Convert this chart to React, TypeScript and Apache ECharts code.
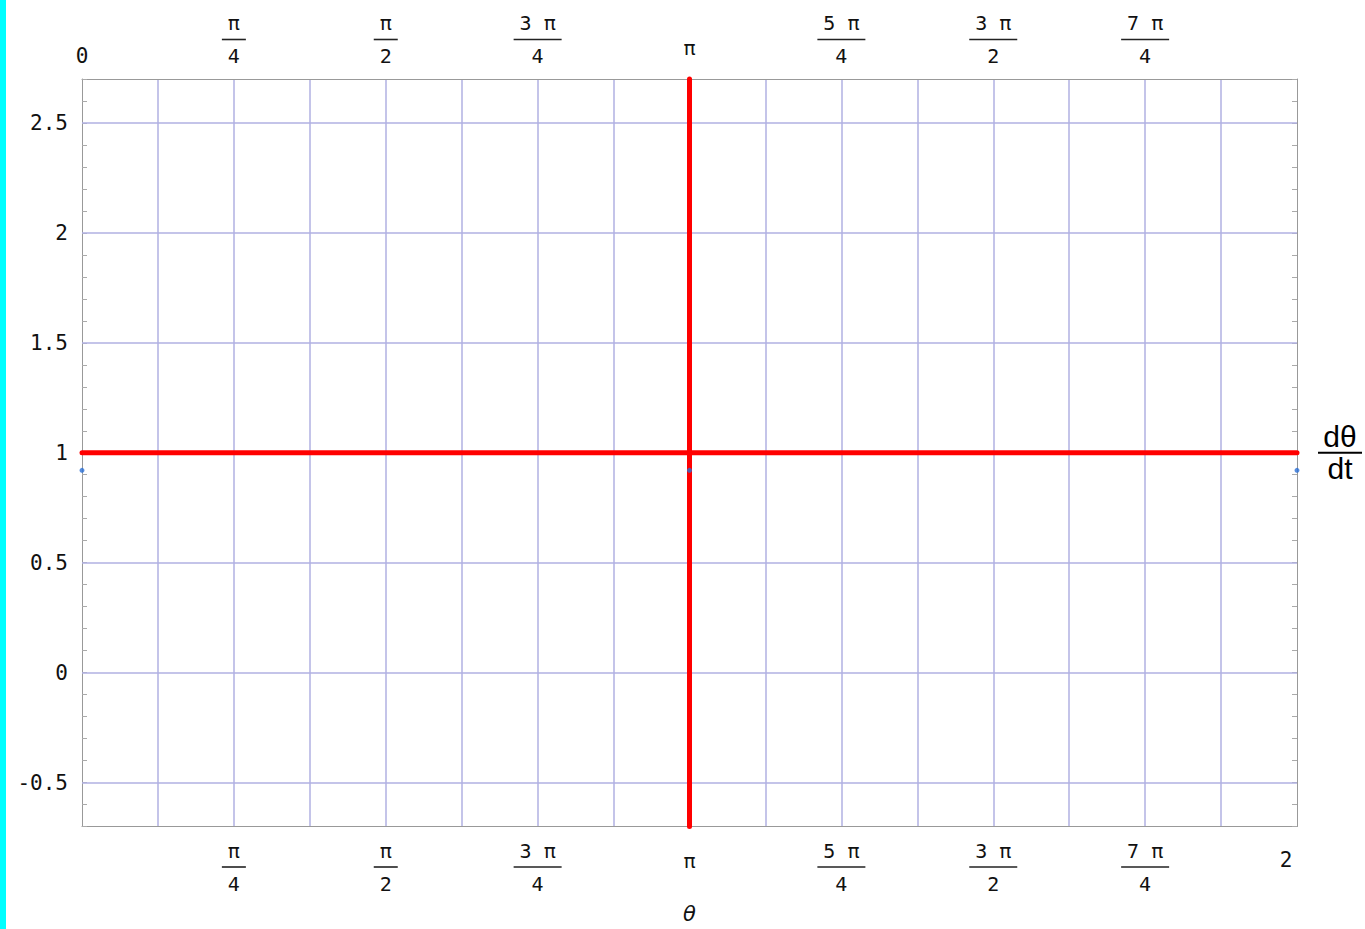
import React, { useEffect, useRef } from "react";
import * as echarts from "echarts";

const PI = Math.PI;

// Horizontal axis: θ from 0 to 2π with gridlines every π/8
const thetaMin = 0;
const thetaMax = 2 * PI;
const thetaGridStep = PI / 8;

// Tick labels on the top and bottom θ axes, placed at multiples of π/8
const topLabelSteps = [0, 2, 4, 6, 8, 10, 12, 14];
const topTickLabels = ["0", "π/4", "π/2", "3 π/4", "π", "5 π/4", "3 π/2", "7 π/4"];
const bottomLabelSteps = [2, 4, 6, 8, 10, 12, 14, 16];
const bottomTickLabels = ["π/4", "π/2", "3 π/4", "π", "5 π/4", "3 π/2", "7 π/4", "2"];

// Vertical axis: dθ/dt
const rateMin = -0.7;
const rateMax = 2.7;
const rateTickStep = 0.1;
const rateGridValues = [-0.5, 0, 0.5, 1, 1.5, 2, 2.5];

// Red lines: dθ/dt = 1 over the whole θ range, and θ = π
const horizontalLineTheta = [0, 2 * PI];
const horizontalLineRate = [1, 1];
const verticalLineTheta = [PI, PI];
const verticalLineRate = [-0.7, 2.7];

// Blue points
const pointTheta = [0, PI, 2 * PI];
const pointRate = [0.92, 0.92, 0.92];

const gridColor = "#b0b0e2";
const frameColor = "#999999";
const textColor = "#111111";
const monoFont = "'DejaVu Sans Mono', monospace";

const zip = (xs: number[], ys: number[]) => xs.map((x, i) => [x, ys[i]]);

function thetaFormatter(steps: number[], labels: string[]) {
  return (value: number) => {
    const k = Math.round(value / thetaGridStep);
    const i = steps.indexOf(k);
    if (i < 0) return "";
    const label = labels[i];
    if (label.includes("/")) {
      const [num, den] = label.split("/");
      const bar = num.length > 1 ? "barL" : "barS";
      return `{num|${num}}\n{${bar}|}\n{den|${den}}`;
    }
    if (label === "π") return "{pi|π}";
    if (label === "2") return "{end|2}";
    return `{plain|${label}}`;
  };
}

const fractionRich = {
  num: { fontFamily: monoFont, fontSize: 20, lineHeight: 30, color: textColor },
  den: { fontFamily: monoFont, fontSize: 20, lineHeight: 30, color: textColor },
  barS: { width: 24, height: 1.6, lineHeight: 3, backgroundColor: "#222222" },
  barL: { width: 48, height: 1.6, lineHeight: 3, backgroundColor: "#222222" },
};

function rateFormatter(v: number) {
  if (Math.abs(v * 2 - Math.round(v * 2)) > 1e-6) return "";
  const r = Math.round(v * 10) / 10;
  return String(r === 0 ? 0 : r);
}

const option: any = {
  animation: false,
  backgroundColor: "#ffffff",
  grid: { left: 82, top: 79, width: 1216, height: 751, containLabel: false },
  graphic: [
    {
      type: "rect",
      left: 0,
      top: 0,
      shape: { width: 6, height: 929 },
      style: { fill: "#00ffff" },
      silent: true,
    },
  ],
  xAxis: [
    {
      type: "value",
      position: "bottom",
      min: thetaMin,
      max: thetaMax,
      interval: thetaGridStep,
      axisLine: { show: true, onZero: false, lineStyle: { color: frameColor, width: 1 } },
      axisTick: { show: false },
      splitLine: {
        show: true,
        showMinLine: false,
        showMaxLine: false,
        lineStyle: { color: gridColor, width: 1.5 },
      },
      axisLabel: {
        show: true,
        margin: 9,
        showMinLabel: true,
        showMaxLabel: true,
        formatter: thetaFormatter(bottomLabelSteps, bottomTickLabels),
        rich: {
          ...fractionRich,
          pi: { fontFamily: monoFont, fontSize: 20, lineHeight: 50, color: textColor },
          end: {
            fontFamily: monoFont,
            fontSize: 21,
            lineHeight: 48,
            padding: [0, 22, 0, 0],
            color: textColor,
          },
          plain: { fontFamily: monoFont, fontSize: 21, lineHeight: 30, color: textColor },
        },
      },
      name: "θ",
      nameLocation: "middle",
      nameGap: 87,
      nameTextStyle: {
        fontFamily: "'DejaVu Sans', sans-serif",
        fontStyle: "italic",
        fontSize: 21,
        color: textColor,
        align: "center",
        verticalAlign: "middle",
      },
    },
    {
      type: "value",
      position: "top",
      min: thetaMin,
      max: thetaMax,
      interval: thetaGridStep,
      axisLine: { show: true, onZero: false, lineStyle: { color: frameColor, width: 1 } },
      axisTick: { show: false },
      splitLine: { show: false },
      axisLabel: {
        show: true,
        margin: 8,
        showMinLabel: true,
        showMaxLabel: true,
        formatter: thetaFormatter(topLabelSteps, topTickLabels),
        rich: {
          ...fractionRich,
          pi: { fontFamily: monoFont, fontSize: 20, lineHeight: 46, color: textColor },
          plain: { fontFamily: monoFont, fontSize: 21, lineHeight: 30, color: textColor },
        },
      },
    },
  ],
  yAxis: [
    {
      type: "value",
      position: "left",
      min: rateMin,
      max: rateMax,
      interval: rateTickStep,
      axisLine: { show: true, onZero: false, lineStyle: { color: frameColor, width: 1 } },
      axisTick: { show: true, inside: true, length: 5, lineStyle: { color: "#aaaaaa", width: 1 } },
      splitLine: { show: false },
      axisLabel: {
        show: true,
        margin: 14,
        showMinLabel: true,
        showMaxLabel: true,
        fontFamily: monoFont,
        fontSize: 21,
        color: textColor,
        formatter: rateFormatter,
      },
    },
    {
      type: "value",
      position: "right",
      min: rateMin,
      max: rateMax,
      interval: rateTickStep,
      axisLine: { show: true, onZero: false, lineStyle: { color: frameColor, width: 1 } },
      axisTick: { show: true, inside: true, length: 5, lineStyle: { color: "#aaaaaa", width: 1 } },
      splitLine: { show: false },
      axisLabel: { show: false },
      name: "{n|dθ}\n{b|}\n{d|dt}",
      nameLocation: "middle",
      nameRotate: 0,
      nameGap: 43,
      nameTextStyle: {
        align: "center",
        verticalAlign: "middle",
        rich: {
          n: { fontFamily: "'Liberation Sans', Arial, sans-serif", fontSize: 30, lineHeight: 29, color: "#000" },
          d: { fontFamily: "'Liberation Sans', Arial, sans-serif", fontSize: 30, lineHeight: 29, color: "#000" },
          b: { width: 44, height: 2, lineHeight: 3, backgroundColor: "#000" },
        },
      },
    },
  ],
  series: [
    {
      // horizontal gridlines at every 0.5 of dθ/dt
      type: "line",
      data: [],
      z: 1,
      silent: true,
      markLine: {
        silent: true,
        z: 1,
        symbol: ["none", "none"],
        label: { show: false },
        emphasis: { disabled: true },
        lineStyle: { color: gridColor, width: 1.5, type: "solid" },
        data: rateGridValues.map((v) => ({ yAxis: v })),
      },
    },
    {
      type: "line",
      data: zip(horizontalLineTheta, horizontalLineRate),
      symbol: "none",
      clip: false,
      z: 3,
      silent: true,
      lineStyle: { color: "#ff0000", width: 5, cap: "round" },
    },
    {
      type: "line",
      data: zip(verticalLineTheta, verticalLineRate),
      symbol: "none",
      clip: false,
      z: 3,
      silent: true,
      lineStyle: { color: "#ff0000", width: 5, cap: "round" },
    },
    {
      type: "scatter",
      data: zip(pointTheta, pointRate),
      symbolSize: 5,
      clip: false,
      z: 4,
      silent: true,
      itemStyle: { color: "#2a6fd6" },
    },
  ],
};

export default function App() {
  const ref = useRef<HTMLDivElement>(null);
  useEffect(() => {
    if (!ref.current) return;
    const chart = echarts.init(ref.current, undefined, { renderer: "svg" });
    chart.setOption(option);
    return () => chart.dispose();
  }, []);
  return (
    <div
      ref={ref}
      style={{ position: "fixed", left: 0, top: 0, width: 1365, height: 929, background: "#ffffff" }}
    />
  );
}
